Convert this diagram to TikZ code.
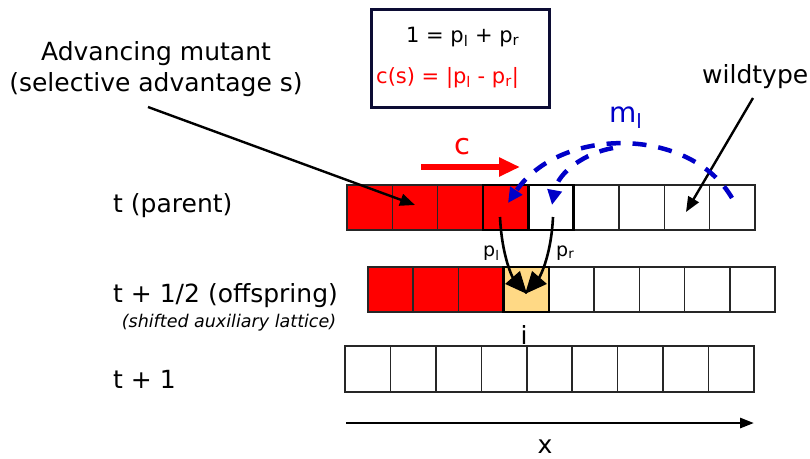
\documentclass[tikz,border=0pt]{standalone}
\usepackage{fontspec}
\setmainfont{DejaVu Sans}
\usetikzlibrary{arrows.meta}
\definecolor{mred}{RGB}{255,0,0}
\definecolor{mblue}{RGB}{0,0,200}
\definecolor{navy}{RGB}{12,12,52}
\definecolor{offs}{RGB}{255,217,133}
\newcommand\setfs[1]{\fontsize{#1}{#1}\selectfont}
\begin{document}
\begin{tikzpicture}[x=1pt,y=-1pt,
  cell/.style={draw=black!85, line width=1.4pt, minimum width=45.3pt, minimum height=45pt, inner sep=0pt, outer sep=0pt},
  thickcell/.style={draw=black, line width=2.7pt},
  lbl/.style={inner sep=0pt, font=\setfs{25}},
  pointer/.style={line width=2.4pt, -{Triangle[length=15pt,width=12pt]}},
  hop/.style={line width=2.6pt, -{Triangle[length=22pt,width=19pt]}},
  migr/.style={mblue, line width=4.5pt, dash pattern=on 14pt off 12pt, -{Triangle[length=15pt,width=14pt]}}
]
\useasboundingbox (0,0) rectangle (810,458);

% lattices
\foreach \i in {1,...,9}{
  \node[cell] (P\i) at ({347+45.33*(\i-0.5)},207.5) {};
  \node[cell] (O\i) at ({368+45.22*(\i-0.5)},289.5) {};
  \node[cell, minimum height=46pt] (N\i) at ({345+45.44*(\i-0.5)},369) {};
}
\foreach \i in {1,...,4}{\fill[mred] (P\i.south west) rectangle (P\i.north east);
  \draw[black!85, line width=1.4pt] (P\i.south west) rectangle (P\i.north east);}
\foreach \i in {1,...,3}{\fill[mred] (O\i.south west) rectangle (O\i.north east);
  \draw[black!85, line width=1.4pt] (O\i.south west) rectangle (O\i.north east);}
\fill[offs] (O4.south west) rectangle (O4.north east);
\draw[thickcell] (P4.south west) rectangle (P4.north east);
\draw[thickcell] (P5.south west) rectangle (P5.north east);
\draw[thickcell] (O4.south west) rectangle (O4.north east);

% formula box
\node[draw=navy, line width=3pt, minimum width=178pt, minimum height=98pt, inner sep=0pt] (box) at (460.5,58) {};
\node[anchor=base west, inner sep=0pt, font=\setfs{21}] (f1) at (406,42) {1 = p\textsubscript{l} + p\textsubscript{r}};
\node[anchor=base west, inner sep=0pt, font=\setfs{21}, text=mred] (f2) at (376,83) {c(s) = |p\textsubscript{l} - p\textsubscript{r}|};

% row labels
\node[lbl, anchor=base west] (tpar) at (113,212) {t (parent)};
\node[lbl, anchor=base west] (toff) at (113,302) {t + 1/2 (offspring)};
\node[inner sep=0pt, anchor=base, font=\setfs{17.5}\itshape] (shift) at (229,327) {(shifted auxiliary lattice)};
\node[lbl, anchor=base west] (tone) at (113,388) {t + 1};

% annotations
\node[lbl, anchor=base] (am1) at (156,60) {Advancing mutant};
\node[lbl, anchor=base] (am2) at (156,91) {(selective advantage s)};
\node[lbl, anchor=base west] (wt) at (702,83) {wildtype};
\coordinate (amstart) at (148,107);
\coordinate (amend) at (415,205);
\coordinate (wtstart) at (753,98);
\coordinate (wtend) at (686,212);
\draw[pointer] (amstart) -- (amend);
\draw[pointer] (wtstart) -- (wtend);

% velocity c
\coordinate (cstart) at (421,167);
\coordinate (cend) at (520,167);
\draw[mred, line width=5.5pt, -{Triangle[length=21pt,width=18pt]}] (cstart) -- (cend);
\node[inner sep=0pt, anchor=base, font=\setfs{29}, text=mred] (clbl) at (462,154) {c};

% migration m_l
\coordinate (mo1) at (732,198);
\coordinate (mo2) at (508,203);
\coordinate (mi1) at (613,148);
\coordinate (mi2) at (552,205);
\draw[migr] (mo1) .. controls (690,126) and (560,126) .. (mo2);
\draw[migr] (mi1) .. controls (585,153) and (558,172) .. (mi2);
\node[inner sep=0pt, anchor=base west, font=\setfs{28}, text=mblue] (mlbl) at (609,122) {m\textsubscript{l}};

% offspring choice
\coordinate (hl1) at (500,217);
\coordinate (hl2) at (527,294);
\coordinate (hr1) at (553,217);
\coordinate (hr2) at (525,294);
\draw[hop] (hl1) .. controls (502,258) and (513,278) .. (hl2);
\draw[hop] (hr1) .. controls (551,258) and (539,278) .. (hr2);
\node[inner sep=0pt, anchor=base west, font=\setfs{19}] (pl) at (483,256) {p\textsubscript{l}};
\node[inner sep=0pt, anchor=base west, font=\setfs{19}] (pr) at (556,256) {p\textsubscript{r}};
\node[lbl, anchor=base] (ilbl) at (524,344) {i};

% x axis
\coordinate (xa) at (346,423);
\coordinate (xb) at (754,423);
\draw[line width=2.8pt, -{Triangle[length=14pt,width=10pt]}] (xa) -- (xb);
\node[lbl, anchor=base] (xlbl) at (545,453) {x};
\end{tikzpicture}
\end{document}
